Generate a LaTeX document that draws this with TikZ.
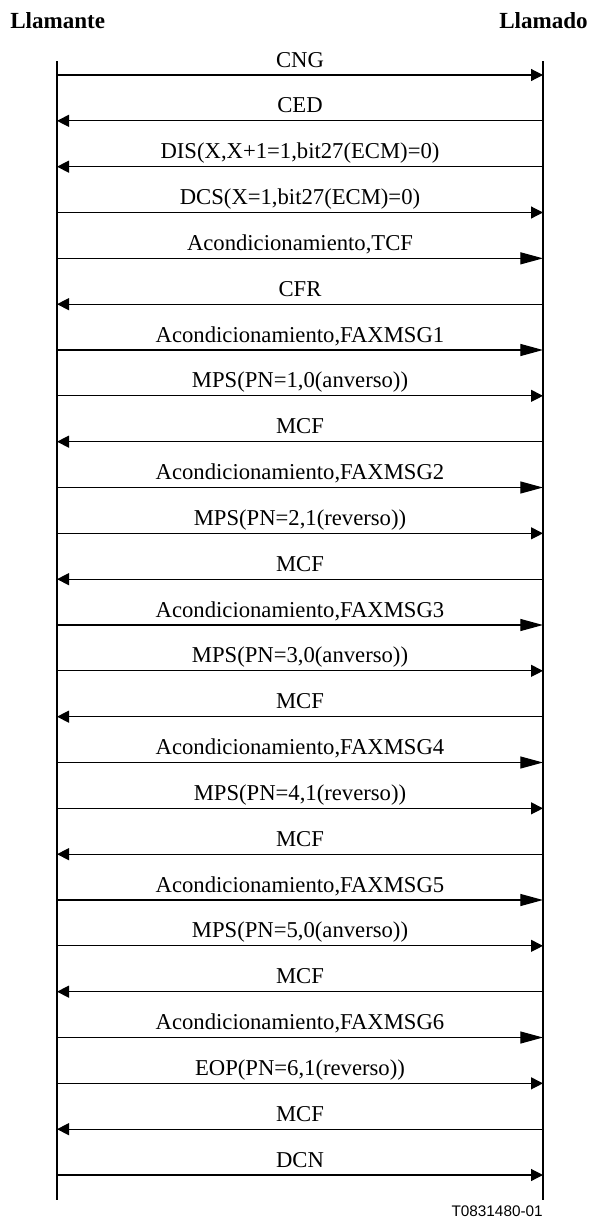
\documentclass[tikz,border=0pt]{standalone}
\usepackage{fontspec}
\setmainfont{Liberation Serif}
\newfontfamily\arialfont{Liberation Sans}
\usetikzlibrary{arrows.meta}
\begin{document}
\begin{tikzpicture}[x=0.75pt,y=-0.75pt,
  life/.style={line width=0.9pt},
  msg/.style={line width=0.9pt},
  tipS/.style={-{Triangle[length=9pt,width=9pt]}},
  tipL/.style={-{Triangle[length=17pt,width=9pt]}},
  lbl/.style={anchor=base,inner sep=0pt,font=\fontsize{17}{19}\selectfont},
  head/.style={inner sep=0pt,font=\bfseries\fontsize{17.3}{20}\selectfont}]
\useasboundingbox (0,0) rectangle (591,1218);
\node[head,anchor=base west] (caller) at (10,28) {Llamante};
\node[head,anchor=base east] (callee) at (588,28) {Llamado};
\coordinate (Ltop) at (57,61);
\coordinate (Lbot) at (57,1200);
\coordinate (Rtop) at (543,61);
\coordinate (Rbot) at (543,1200);
\draw[life] (Ltop) -- (Lbot);
\draw[life] (Rtop) -- (Rbot);
\foreach \i/\a/\b/\tp/\txt in {
  1/L/R/S/{CNG},
  2/R/L/S/{CED},
  3/R/L/S/{DIS(X,X+1=1,bit27(ECM)=0)},
  4/L/R/S/{DCS(X=1,bit27(ECM)=0)},
  5/L/R/L/{Acondicionamiento,TCF},
  6/R/L/S/{CFR},
  7/L/R/L/{Acondicionamiento,FAXMSG1},
  8/L/R/S/{MPS(PN=1,0(anverso))},
  9/R/L/S/{MCF},
  10/L/R/L/{Acondicionamiento,FAXMSG2},
  11/L/R/S/{MPS(PN=2,1(reverso))},
  12/R/L/S/{MCF},
  13/L/R/L/{Acondicionamiento,FAXMSG3},
  14/L/R/S/{MPS(PN=3,0(anverso))},
  15/R/L/S/{MCF},
  16/L/R/L/{Acondicionamiento,FAXMSG4},
  17/L/R/S/{MPS(PN=4,1(reverso))},
  18/R/L/S/{MCF},
  19/L/R/L/{Acondicionamiento,FAXMSG5},
  20/L/R/S/{MPS(PN=5,0(anverso))},
  21/R/L/S/{MCF},
  22/L/R/L/{Acondicionamiento,FAXMSG6},
  23/L/R/S/{EOP(PN=6,1(reverso))},
  24/R/L/S/{MCF},
  25/L/R/S/{DCN}}{
  \pgfmathsetmacro{\yy}{75+(\i-1)*45.8333}
  \coordinate (L\i) at (57,\yy);
  \coordinate (R\i) at (543,\yy);
  \draw[msg,tip\tp] (\a\i) -- (\b\i);
  \node[lbl] (m\i) at (300,\yy-8) {\txt};
}
\node[anchor=base east,inner sep=0pt,font=\arialfont\fontsize{11.5}{13}\selectfont] (fig) at (543,1216) {T0831480-01};
\end{tikzpicture}
\end{document}
